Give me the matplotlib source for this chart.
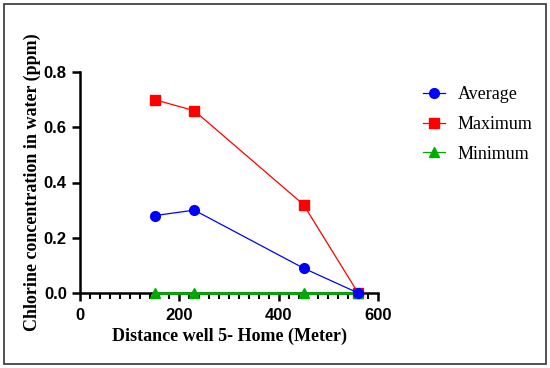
import matplotlib
matplotlib.use("Agg")
import matplotlib.pyplot as plt
from matplotlib.patches import Rectangle
from matplotlib.ticker import MultipleLocator

# distance from well 5 to home (meter)
distance = [150, 230, 450, 560]
average = [0.28, 0.30, 0.09, 0.0]
maximum = [0.70, 0.66, 0.32, 0.0]
minimum = [0.0, 0.0, 0.0, 0.0]

fig = plt.figure(figsize=(5.5, 3.68), dpi=100)
ax = fig.add_axes([80 / 550, 1 - 293 / 368, 298 / 550, 221 / 368])

ax.plot(distance, maximum, color="#ff0000", marker="s", markersize=7, lw=0.9,
        label="Maximum", zorder=3, clip_on=False)
ax.plot(distance, minimum, color="#00aa00", marker="^", markersize=7, lw=2,
        label="Minimum", zorder=3, clip_on=False)
ax.plot(distance, average, color="#0000ff", marker="o", markersize=7, lw=0.9,
        label="Average", zorder=4, clip_on=False)

ax.set_xlim(0, 600)
ax.set_ylim(0, 0.8)
ax.xaxis.set_major_locator(MultipleLocator(200))
ax.xaxis.set_minor_locator(MultipleLocator(20))
ax.yaxis.set_major_locator(MultipleLocator(0.2))
ax.yaxis.set_major_formatter(plt.FuncFormatter(lambda v, p: f"{v:.1f}"))

for s in ["top", "right"]:
    ax.spines[s].set_visible(False)
for s in ["left", "bottom"]:
    ax.spines[s].set_linewidth(1.8)
ax.tick_params(which="major", length=6, width=1.8, direction="out")
ax.tick_params(which="minor", length=4, width=1.5, direction="out")
ax.tick_params(axis="x", pad=5)
for lab in ax.get_xticklabels() + ax.get_yticklabels():
    lab.set_fontfamily("Liberation Sans")
    lab.set_fontweight("bold")
    lab.set_fontsize(12)

ax.set_xlabel("Distance well 5- Home (Meter)", family="Liberation Serif",
              fontweight="bold", fontsize=13, labelpad=3)
ax.set_ylabel("Chlorine concentration in water (ppm)", family="Liberation Serif",
              fontweight="bold", fontsize=13, labelpad=2)

h, l = ax.get_legend_handles_labels()
order = [2, 0, 1]
leg = fig.legend([h[i] for i in order], [l[i] for i in order], loc="upper left",
                 bbox_to_anchor=(407 / 550, 1 - 70 / 368), frameon=False,
                 prop={"family": "Liberation Serif", "size": 13},
                 handlelength=1.2, handletextpad=0.7, labelspacing=0.7)
leg.legend_handles[2].set_linewidth(0.9)

fig.patches.append(Rectangle((4 / 550, 4 / 368), 542 / 550, 360 / 368,
                             transform=fig.transFigure, fill=False,
                             edgecolor="#333333", lw=1.2))

fig.savefig("out.png", dpi=100)
